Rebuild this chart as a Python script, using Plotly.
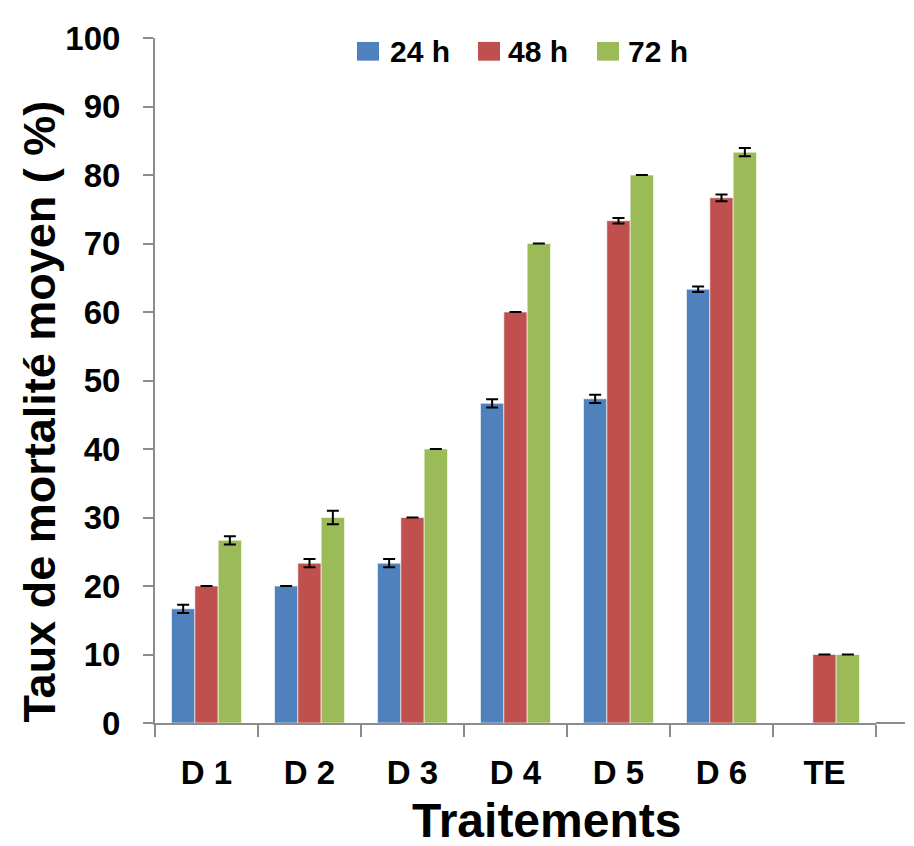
import plotly.graph_objects as go

categories = ["D 1", "D 2", "D 3", "D 4", "D 5", "D 6", "TE"]
series_names = ["24 h", "48 h", "72 h"]
values_24h = [16.67, 20.0, 23.33, 46.67, 47.33, 63.33, None]
values_48h = [20.0, 23.33, 30.0, 60.0, 73.33, 76.67, 10.0]
values_72h = [26.67, 30.0, 40.0, 70.0, 80.0, 83.33, 10.0]
err_24h = [0.6, 0.0, 0.6, 0.6, 0.6, 0.4, None]
err_48h = [0.0, 0.6, 0.0, 0.0, 0.4, 0.5, 0.0]
err_72h = [0.6, 1.0, 0.0, 0.0, 0.0, 0.6, 0.0]
y_ticks = list(range(0, 101, 10))
colors = ["#4F81BD", "#C0504D", "#9BBB59"]

FONT = "Liberation Sans, Arial, sans-serif"

fig = go.Figure()
for name, vals, errs, col in zip(series_names, [values_24h, values_48h, values_72h],
                                 [err_24h, err_48h, err_72h], colors):
    fig.add_trace(go.Bar(
        x=categories, y=vals, name=name,
        marker=dict(color=col, line=dict(color="rgba(255,255,255,0.6)", width=1)),
        error_y=dict(type="data", array=errs, visible=True, color="black",
                     thickness=2, width=6),
        showlegend=False,
    ))

# page offset (body margin) and plot area geometry in page px
OFF = 8
PL, PR, PT, PB = 155, 876, 28, 723
W, H = 914 - OFF, 846
L, T = PL - OFF, PT - OFF
R = W - (PR - OFF)
B = H - (PB - OFF)
pw, ph = PR - PL, PB - PT

def px_x(p):
    return (p - PL) / pw

def px_y(p):
    return (PB - p) / ph

shapes = []
annotations = []
# manual legend
leg_sq_x = [357, 478, 597]
leg_tx_x = [388, 506, 626]
for i, name in enumerate(series_names):
    shapes.append(dict(type="rect", xref="paper", yref="paper",
                       x0=px_x(leg_sq_x[i]), x1=px_x(leg_sq_x[i] + 22),
                       y0=px_y(51), y1=px_y(32),
                       fillcolor=colors[i], line=dict(width=0)))
    annotations.append(dict(text="<b>%s</b>" % name, xref="paper", yref="paper",
                            x=px_x(leg_tx_x[i]), y=px_y(42), xanchor="left",
                            yanchor="middle", showarrow=False,
                            font=dict(family=FONT, size=30, color="black")))

# extension of x axis line beyond last category
shapes.append(dict(type="line", xref="paper", yref="paper", x0=1, x1=px_x(905),
                   y0=0, y1=0, line=dict(color="#8C8C8C", width=2)))

annotations.append(dict(text="<b>Taux de mortalité moyen ( %)</b>", xref="paper", yref="paper",
                        x=px_x(40), y=px_y(407), textangle=-90, showarrow=False,
                        xanchor="center", yanchor="middle",
                        font=dict(family=FONT, size=45, color="black")))
annotations.append(dict(text="<b>Traitements</b>", xref="paper", yref="paper",
                        x=px_x(546), y=px_y(822), showarrow=False,
                        xanchor="center", yanchor="middle",
                        font=dict(family=FONT, size=48, color="black")))

fig.update_layout(
    width=W, height=H,
    margin=dict(l=L, r=R, t=T, b=B, pad=0),
    paper_bgcolor="white", plot_bgcolor="white",
    barmode="group", bargap=0.32, bargroupgap=0,
    shapes=shapes, annotations=annotations,
    font=dict(family=FONT, color="black"),
)
fig.update_xaxes(
    showline=True, linecolor="#8C8C8C", linewidth=2,
    ticks="outside", tickson="boundaries", ticklen=12, tickwidth=2, tickcolor="#8C8C8C",
    tickfont=dict(family=FONT, size=33, color="black"),
    tickvals=categories, ticktext=["<b>%s</b>" % c for c in categories],
    ticklabelstandoff=19, showgrid=False,
)
fig.update_yaxes(
    range=[0, 100], tickvals=y_ticks, ticktext=["<b>%d</b>" % v for v in y_ticks],
    showline=True, linecolor="#8C8C8C", linewidth=2,
    ticks="outside", ticklen=10, tickwidth=2, tickcolor="#8C8C8C",
    tickfont=dict(family=FONT, size=33, color="black"),
    ticklabelstandoff=16, showgrid=False, zeroline=False,
)

fig.write_html("out.html")
